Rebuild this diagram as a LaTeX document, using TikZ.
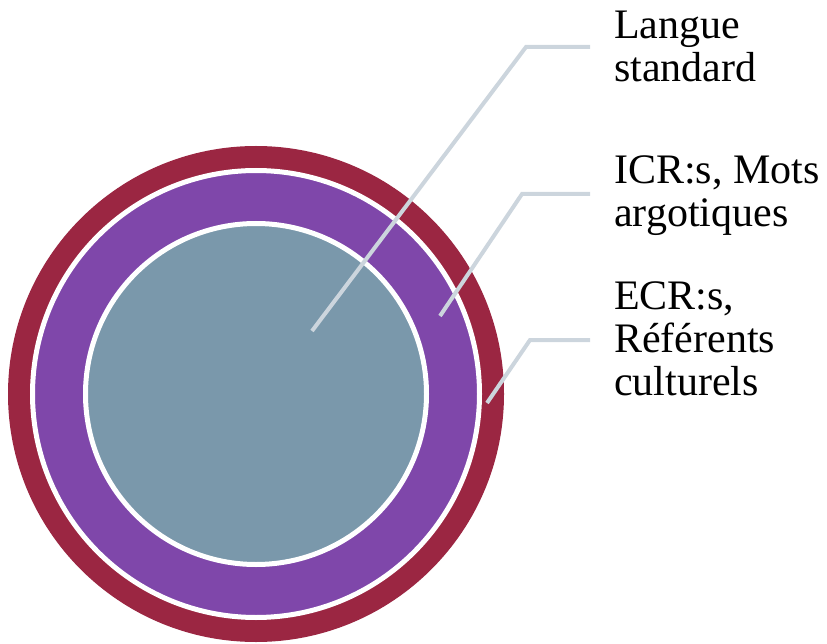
\documentclass[tikz,border=0pt]{standalone}
\usepackage{fontspec}
\setmainfont{Liberation Serif}

\definecolor{ringred}{HTML}{9B2642}
\definecolor{ringpurple}{HTML}{7F47AA}
\definecolor{coreblue}{HTML}{7A98AB}
\definecolor{leadergray}{HTML}{CCD5DD}

\begin{document}
\begin{tikzpicture}[x=1pt,y=-1pt,
  leader/.style={draw=leadergray, line width=4pt},
  ringlabel/.style={anchor=base west, align=left, inner sep=0pt,
    font=\fontsize{42}{43}\selectfont}]

% Frame
\useasboundingbox (0,0) rectangle (827,644);

% Rings
\coordinate (c) at (256,394);
\fill[ringred] (c) circle (248pt);
\filldraw[fill=ringpurple, draw=white, line width=5pt] (c) circle (223.5pt);
\filldraw[fill=coreblue, draw=white, line width=5pt] (c) circle (170.5pt);

% Labels (base = last line)
\node[ringlabel] (langue) at (614,82)
{Langue\\standard};

\node[ringlabel] (icr) at (614,227)
{ICR:s, Mots\\argotiques};

\node[ringlabel] (ecr) at (614,395)
{ECR:s,\\Référents\\culturels};

% Leader lines
\coordinate (core) at (312,331);
\coordinate (kneeA) at (526,47);
\coordinate (endA) at (590,47);
\draw[leader] (core) -- (kneeA) -- (endA);

\coordinate (mid) at (440,316);
\coordinate (kneeB) at (522,194);
\coordinate (endB) at (590,194);
\draw[leader] (mid) -- (kneeB) -- (endB);

\coordinate (outer) at (487,403);
\coordinate (kneeC) at (530,340);
\coordinate (endC) at (590,340);
\draw[leader] (outer) -- (kneeC) -- (endC);

\end{tikzpicture}
\end{document}
